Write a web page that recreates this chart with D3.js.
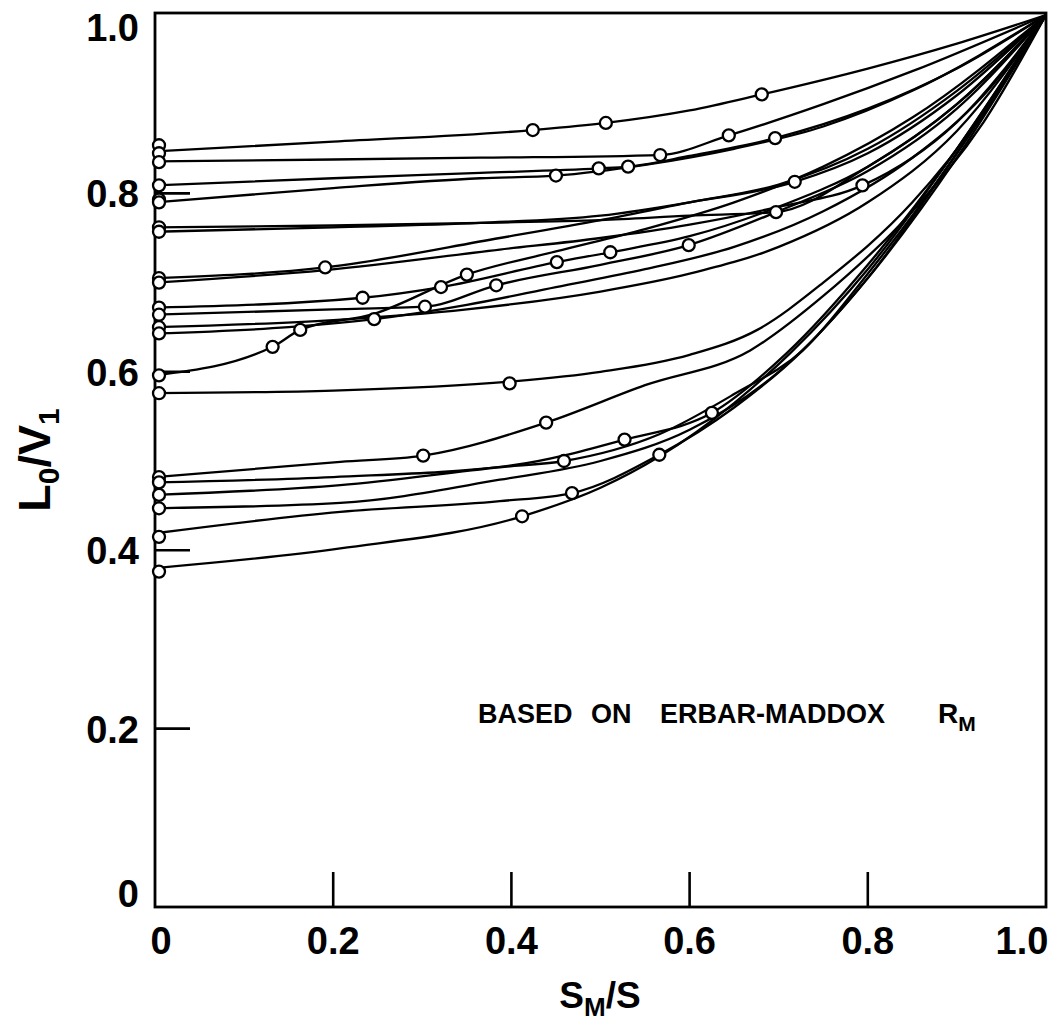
<!DOCTYPE html>
<html>
<head>
<meta charset="utf-8">
<script src="https://cdn.jsdelivr.net/npm/d3@7"></script>
<style>
  body { margin: 0; background: #fff; }
  svg { display: block; }
  text { font-family: "Liberation Sans", Arial, sans-serif; fill: #000; }
</style>
</head>
<body>
<svg width="1053" height="1026"></svg>
<script>
// axis ticks
const xTicks = [0, 0.2, 0.4, 0.6, 0.8, 1.0];
const yTicks = [0, 0.2, 0.4, 0.6, 0.8, 1.0];
const xTickLabels = ["0", "0.2", "0.4", "0.6", "0.8", "1.0"];
const yTickLabels = ["0", "0.2", "0.4", "0.6", "0.8", "1.0"];

// curves, [S_M/S, L0/V1]
const upperCurves = [
  [[0,0.847],[0.2,0.858],[0.424,0.871],[0.506,0.879],[0.6,0.893],[0.681,0.911],[0.8,0.94],[0.9,0.968],[1,1]],
  [[0,0.836],[0.2,0.838],[0.365,0.840],[0.567,0.843],[0.644,0.865],[0.75,0.9],[0.85,0.937],[1,1]],
  [[0,0.809],[0.2,0.817],[0.365,0.823],[0.498,0.828],[0.531,0.830],[0.6,0.842],[0.696,0.862],[0.8,0.895],[0.9,0.94],[1,1]],
  [[0,0.79],[0.2,0.806],[0.365,0.817],[0.45,0.82],[0.55,0.832],[0.65,0.85],[0.75,0.875],[0.85,0.915],[1,1]]
];
const middleCurves = [
  [[0,0.762],[0.2,0.764],[0.365,0.767],[0.5,0.77],[0.6,0.775],[0.697,0.779],[0.8,0.83],[0.9,0.9],[1,1]],
  [[0,0.757],[0.2,0.762],[0.365,0.767],[0.5,0.775],[0.6,0.79],[0.718,0.813],[0.8,0.845],[0.9,0.91],[1,1]],
  [[0,0.705],[0.191,0.717],[0.387,0.75],[0.5,0.77],[0.6,0.79],[0.7,0.81],[0.8,0.85],[0.9,0.915],[1,1]],
  [[0,0.700],[0.191,0.714],[0.387,0.737],[0.5,0.75],[0.6,0.765],[0.7,0.785],[0.794,0.809],[0.9,0.88],[1,1]],
  [[0,0.672],[0.233,0.683],[0.321,0.695],[0.451,0.723],[0.511,0.734],[0.6,0.752],[0.7,0.785],[0.8,0.83],[0.9,0.9],[1,1]],
  [[0,0.664],[0.2,0.67],[0.303,0.673],[0.383,0.697],[0.5,0.72],[0.599,0.742],[0.697,0.779],[0.8,0.825],[0.9,0.895],[1,1]],
  [[0,0.650],[0.2,0.658],[0.35,0.67],[0.5,0.69],[0.6,0.71],[0.7,0.74],[0.8,0.79],[0.9,0.87],[1,1]],
  [[0,0.643],[0.15,0.65],[0.246,0.659],[0.35,0.675],[0.45,0.695],[0.55,0.715],[0.65,0.74],[0.75,0.78],[0.85,0.84],[0.93,0.91],[1,1]],
  [[0,0.596],[0.132,0.628],[0.163,0.647],[0.246,0.665],[0.35,0.709],[0.45,0.735],[0.55,0.76],[0.65,0.79],[0.75,0.83],[0.85,0.885],[1,1]]
];
const lowerCurves = [
  [[0,0.576],[0.2,0.579],[0.398,0.589],[0.5,0.60],[0.6,0.619],[0.676,0.647],[0.75,0.7],[0.85,0.79],[0.93,0.89],[1,1]],
  [[0,0.482],[0.208,0.499],[0.301,0.506],[0.439,0.543],[0.55,0.585],[0.668,0.624],[0.75,0.685],[0.85,0.78],[0.93,0.88],[1,1]],
  [[0,0.476],[0.2,0.482],[0.4,0.495],[0.527,0.524],[0.625,0.554],[0.709,0.621],[0.8,0.72],[0.9,0.85],[1,1]],
  [[0,0.462],[0.208,0.473],[0.387,0.493],[0.459,0.500],[0.566,0.53],[0.65,0.575],[0.727,0.624],[0.8,0.71],[0.9,0.845],[1,1]],
  [[0,0.447],[0.208,0.453],[0.387,0.479],[0.5,0.5],[0.6,0.535],[0.7,0.6],[0.8,0.705],[0.9,0.845],[1,1]],
  [[0,0.419],[0.208,0.443],[0.387,0.455],[0.468,0.464],[0.566,0.507],[0.65,0.56],[0.727,0.624],[0.8,0.705],[0.9,0.84],[1,1]],
  [[0,0.38],[0.208,0.402],[0.412,0.438],[0.5,0.47],[0.566,0.505],[0.65,0.565],[0.713,0.621],[0.8,0.715],[0.9,0.85],[1,1]]
];

// open circles: values at S_M/S = 0, and the measured points along the curves
const startValues = [0.854,0.845,0.835,0.809,0.793,0.79,0.762,0.757,0.705,0.700,0.672,0.664,0.650,0.643,0.596,0.576,0.482,0.476,0.462,0.447,0.415,0.376];
const measuredPoints = [
  [0.424,0.871],[0.506,0.879],[0.681,0.911],[0.567,0.843],[0.644,0.865],[0.696,0.862],
  [0.45,0.82],[0.498,0.828],[0.531,0.830],[0.718,0.813],[0.794,0.809],[0.697,0.779],
  [0.599,0.742],[0.511,0.734],[0.451,0.723],[0.191,0.717],[0.350,0.709],[0.321,0.695],
  [0.383,0.697],[0.233,0.683],[0.303,0.673],[0.246,0.659],[0.163,0.647],[0.132,0.628],
  [0.398,0.587],[0.439,0.543],[0.527,0.524],[0.625,0.554],[0.301,0.506],[0.459,0.500],
  [0.566,0.507],[0.468,0.464],[0.412,0.438]
];

const svg = d3.select("svg");

const x = d3.scaleLinear().domain([0, 1]).range([155, 1046]);
const y = d3.scaleLinear().domain([0, 1]).range([907, 15]);

// frame
svg.append("rect")
    .attr("x", x(0)).attr("y", y(1) - 2)
    .attr("width", x(1) - x(0)).attr("height", y(0) - y(1) + 2)
    .attr("fill", "none").attr("stroke", "#000").attr("stroke-width", 2.8);

// inner ticks
svg.append("g").selectAll("line")
    .data(xTicks.filter(d => d > 0 && d < 1))
    .enter().append("line")
    .attr("x1", d => x(d)).attr("x2", d => x(d))
    .attr("y1", y(0)).attr("y2", y(0) - 35)
    .attr("stroke", "#000").attr("stroke-width", 2.6);

svg.append("g").selectAll("line")
    .data(yTicks.filter(d => d > 0 && d < 1))
    .enter().append("line")
    .attr("x1", x(0)).attr("x2", x(0) + 35)
    .attr("y1", d => y(d)).attr("y2", d => y(d))
    .attr("stroke", "#000").attr("stroke-width", 2.6);

// tick labels
svg.append("g").selectAll("text")
    .data(xTicks)
    .enter().append("text")
    .attr("x", d => x(d) + (d === 0 ? 6 : d === 1 ? -24 : 0))
    .attr("y", 954)
    .attr("text-anchor", "middle")
    .style("font-size", "38px")
    .style("font-weight", "bold")
    .text((d, i) => xTickLabels[i]);

svg.append("g").selectAll("text")
    .data(yTicks)
    .enter().append("text")
    .attr("x", 139)
    .attr("y", d => y(d) + 14 + (d === 1 ? 12 : d === 0 ? -14 : 0))
    .attr("text-anchor", "end")
    .style("font-size", "38px")
    .style("font-weight", "bold")
    .text((d, i) => yTickLabels[i]);

// axis titles
const xTitle = svg.append("text")
    .attr("x", 600).attr("y", 1008)
    .attr("text-anchor", "middle")
    .style("font-size", "37px")
    .style("font-weight", "bold");
xTitle.append("tspan").text("S");
xTitle.append("tspan").attr("dy", 8).style("font-size", "26px").text("M");
xTitle.append("tspan").attr("dy", -8).text("/S");

const yTitle = svg.append("text")
    .attr("transform", "translate(50,460) rotate(-90)")
    .attr("text-anchor", "middle")
    .style("font-size", "45px")
    .style("font-weight", "bold");
yTitle.append("tspan").text("L");
yTitle.append("tspan").attr("dy", 9).style("font-size", "30px").text("0");
yTitle.append("tspan").attr("dy", -9).text("/V");
yTitle.append("tspan").attr("dy", 9).style("font-size", "30px").text("1");

// annotation
const noteWords = ["BASED", "ON", "ERBAR-MADDOX"];
const noteX = [478, 591, 660];
svg.append("g").selectAll("text")
    .data(noteWords)
    .enter().append("text")
    .attr("x", (d, i) => noteX[i])
    .attr("y", 723)
    .style("font-size", "27px")
    .style("font-weight", "bold")
    .text(d => d);
const rm = svg.append("text")
    .attr("x", 938).attr("y", 723)
    .style("font-size", "28px")
    .style("font-weight", "bold");
rm.append("tspan").text("R");
rm.append("tspan").attr("dy", 8).style("font-size", "21px").text("M");

// curves
const line = d3.line()
    .x(d => x(d[0]))
    .y(d => y(d[1]))
    .curve(d3.curveMonotoneX);

const allCurves = upperCurves.concat(middleCurves, lowerCurves);

svg.append("g").selectAll("path")
    .data(allCurves)
    .enter().append("path")
    .attr("d", line)
    .attr("fill", "none")
    .attr("stroke", "#000")
    .attr("stroke-width", 2.3);

// circles
svg.append("g").selectAll("circle")
    .data(startValues)
    .enter().append("circle")
    .attr("cx", x(0) + 4)
    .attr("cy", d => y(d))
    .attr("r", 6)
    .attr("fill", "#fff")
    .attr("stroke", "#000")
    .attr("stroke-width", 2.3);

svg.append("g").selectAll("circle")
    .data(measuredPoints)
    .enter().append("circle")
    .attr("cx", d => x(d[0]))
    .attr("cy", d => y(d[1]))
    .attr("r", 6)
    .attr("fill", "#fff")
    .attr("stroke", "#000")
    .attr("stroke-width", 2.3);
</script>
</body>
</html>
